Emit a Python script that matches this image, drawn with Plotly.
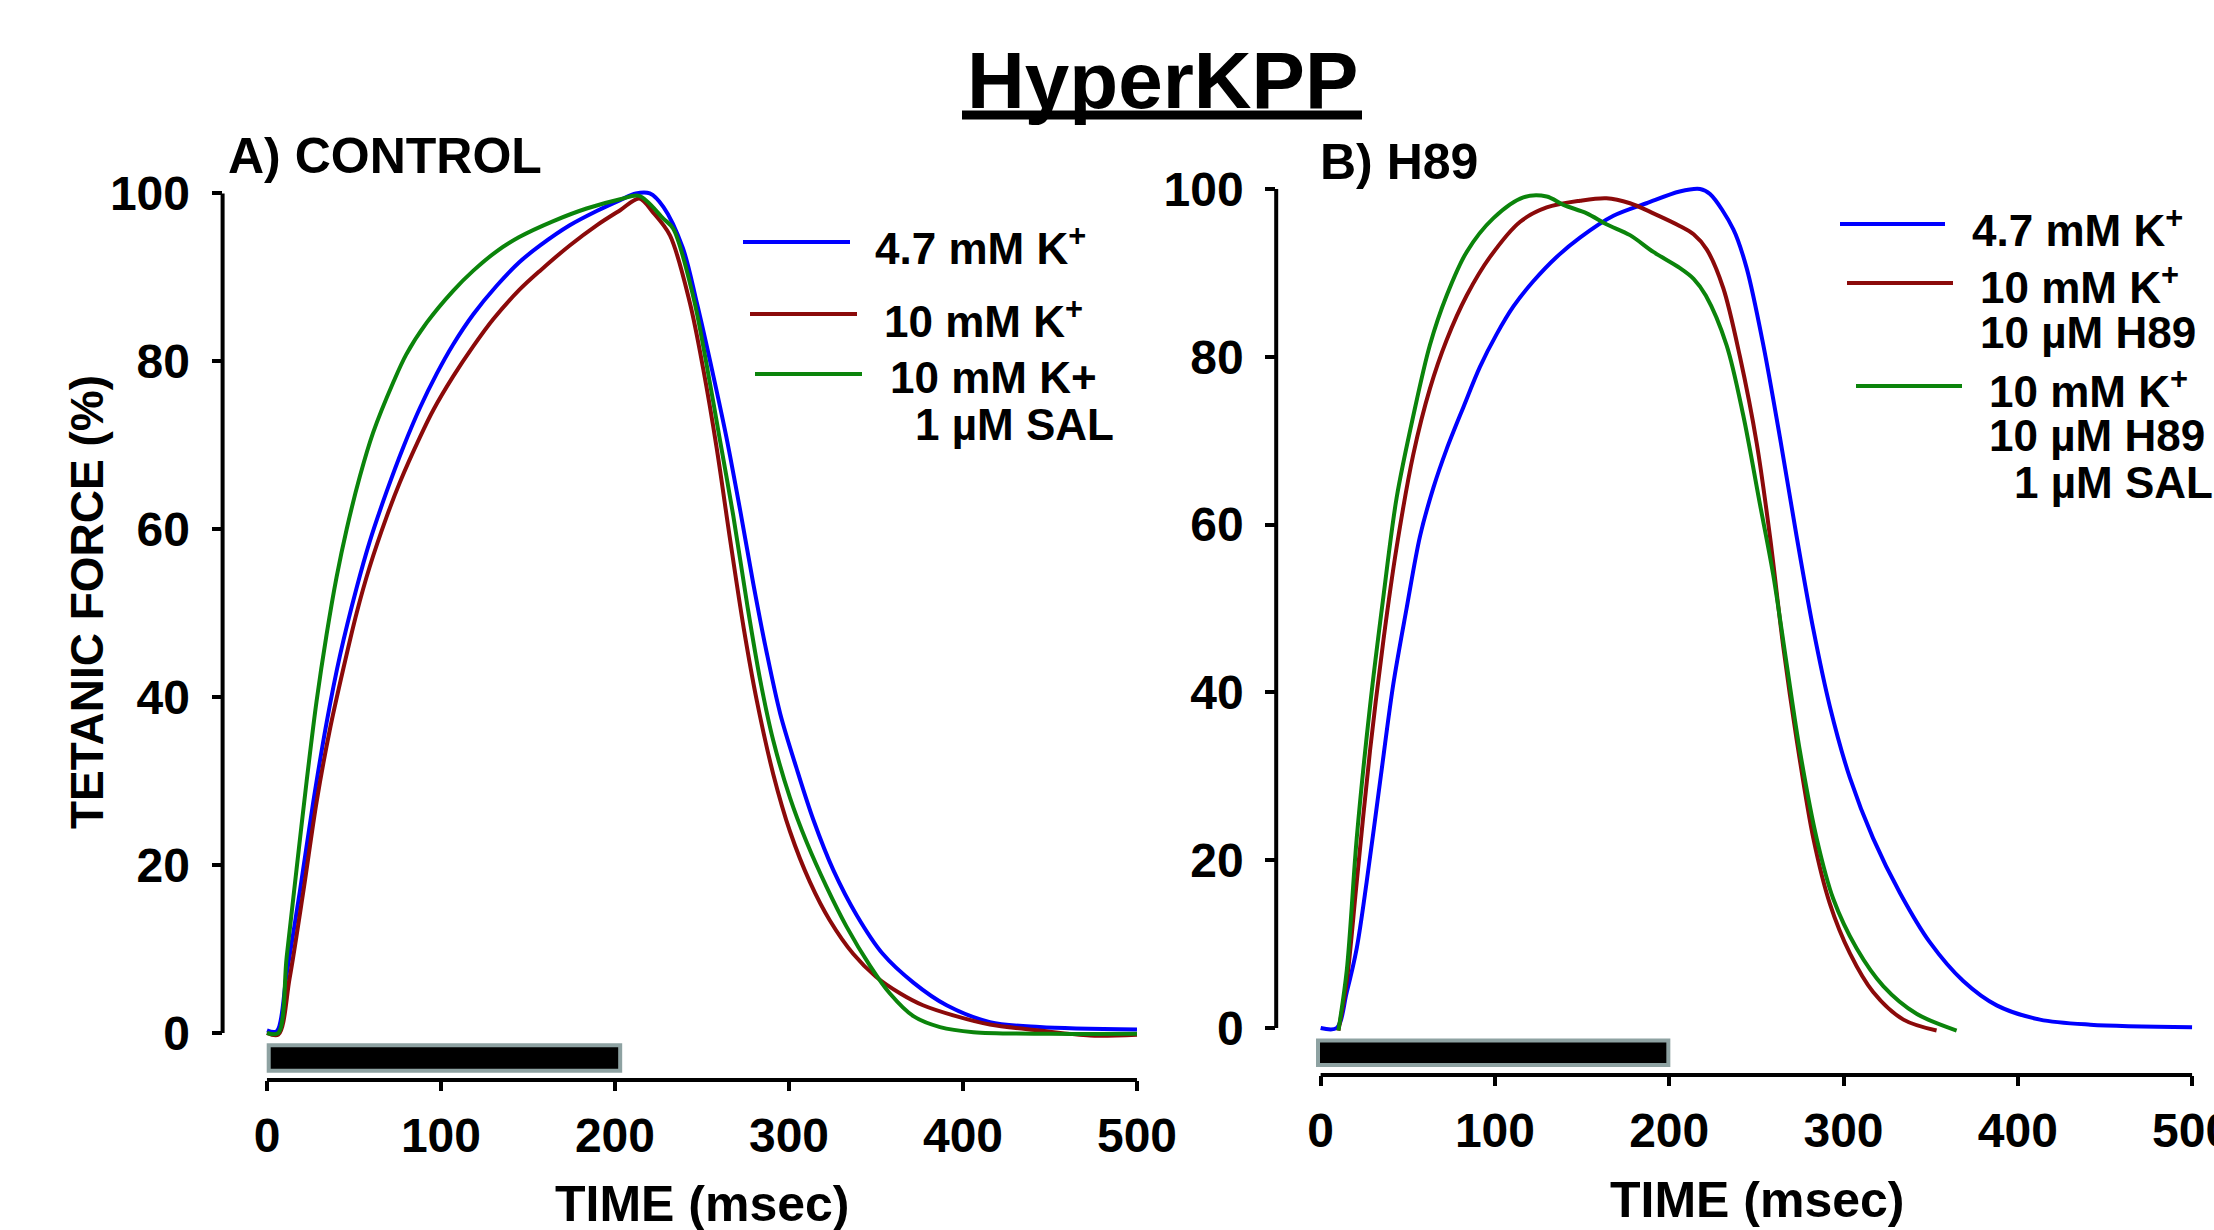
import plotly.graph_objects as go

W, H = 2214, 1230

# ---------------- DATA ----------------
# Panel A (CONTROL)
tA_blue = [0, 5.6, 11.3, 19, 26.6, 34.3, 42, 51.5, 59, 68.8, 78.4, 88, 97.5, 107, 118.6, 132, 145, 157, 174,
           189.5, 203, 212, 220, 227.8, 239, 247, 256.5, 264, 272, 279.5, 287, 295, 304.4, 314, 325.5, 339,
           354, 371.5, 390.6, 415.5, 444, 500]
vA_blue = [0.3, 0.2, 7, 17, 27.5, 37, 45, 53, 58.5, 64.5, 69.8, 74.5, 78.5, 82, 85.6, 89, 91.8, 93.8, 96.2,
           97.9, 99.2, 100, 100, 98.4, 93.5, 87, 78.3, 71, 62.2, 53.5, 45.5, 38, 31.5, 25.4, 19.4, 14,
           9.4, 6, 3.3, 1.3, 0.7, 0.4]

tA_red = [0, 6.5, 13, 21, 28.5, 36, 44, 51.5, 59, 68.8, 76.4, 88, 95.6, 107, 118.6, 130, 145, 157, 174, 189.5,
          203, 214, 222, 231.6, 243, 250.8, 258.5, 266, 274, 281.6, 291, 300.6, 312, 323.5, 337, 350, 364, 377,
          396, 415.5, 444, 473, 500]
vA_red = [0, -0.2, 6.5, 17, 27.5, 36, 43.5, 50, 55.5, 61.5, 65.6, 71, 74.2, 78.2, 81.8, 85, 88.5, 90.8, 93.8, 96.2,
          98, 99.4, 97.7, 95, 87, 79, 69.6, 59, 48.2, 39.5, 30.8, 24, 18, 13.4, 9.4, 6.7, 4.7, 3.3,
          2, 1, 0.3, -0.3, -0.2]

tA_green = [0, 6.5, 11.3, 17, 22.8, 28.5, 34.3, 40, 45.8, 53.4, 61, 72.6, 80, 91.8, 107, 118.6, 132, 145, 164.6,
            183.7, 203, 214, 227.8, 233.5, 245, 252.6, 260, 268, 276, 283.3, 291, 300.6, 310, 321.6, 333, 346.6,
            358, 371.5, 386.8, 406, 450, 500]
vA_green = [0, 0, 9, 19.5, 30, 39.5, 47.5, 54.3, 60, 66.3, 71.5, 77.5, 80.8, 84.6, 88.4, 90.8, 93.1, 94.8, 96.7,
            98.2, 99.3, 99.7, 97, 95.8, 87.7, 79.7, 71, 61.6, 51, 42.2, 34.8, 28, 22.8, 17.4, 12.7, 8,
            4.7, 2, 0.7, 0.1, -0.1, -0.1]

# Panel B (H89)
tB_blue = [0, 9.2, 15, 20.7, 26.4, 34, 41.7, 49.3, 57, 64.7, 72.3, 81.9, 91.4, 101, 110.6, 122, 135.4, 148.8,
           168, 187, 206, 217.7, 223.4, 236.8, 244.4, 254, 263.6, 273.1, 282.7, 292.2, 303.7, 317, 332.4,
           349.6, 368.7, 387.9, 412.7, 441.6, 500]
vB_blue = [0, 0, 4.3, 9.5, 17.4, 29.2, 41, 50, 58.6, 64.4, 69, 74, 78.8, 82.7, 86, 89, 91.9, 94.2,
           96.8, 98.3, 99.7, 100, 99.4, 95.2, 90.6, 81.4, 70.3, 58.6, 47.5, 38.3, 29.8, 22.6, 16.1,
           10.2, 5.6, 2.7, 1, 0.4, 0.1]

tB_red = [10.2, 15, 20.7, 28.3, 36, 43.6, 53.2, 62.7, 72.3, 83.8, 97.2, 114.5, 129.7, 148.8, 164, 177.5, 190.9,
          206, 214, 221.5, 231, 240.6, 250.2, 257.8, 265.4, 273.1, 282.7, 292.2, 303.7, 317, 334.4, 353.4]
vB_red = [-0.3, 5.6, 17.4, 33, 46.2, 57.3, 68.4, 76.2, 82, 87.3, 91.9, 96.1, 97.8, 98.6, 98.9, 98.3, 97.1,
          95.6, 94.6, 92.8, 88.2, 80, 69.7, 58.6, 45.5, 34.4, 22.6, 14.8, 8.9, 4.3, 1, -0.3]

tB_green = [10.2, 15, 20.7, 28.3, 36, 43.6, 53.2, 62.7, 72.3, 83.8, 99, 116.3, 129.7, 139.3, 152.7, 164, 177.5,
            190.9, 206, 214, 221, 232.9, 242.5, 252, 259.7, 267.3, 275, 284.6, 294.1, 307.5, 322.8,
            341.9, 364.9]
vB_green = [-0.3, 6.9, 22.6, 38.3, 51.4, 63.2, 73, 81.4, 87.3, 92.5, 96.5, 99, 99.1, 98.1, 97.1, 95.8, 94.5,
            92.5, 90.6, 89.3, 87.3, 81.4, 73, 62.5, 54, 43.5, 33, 22.6, 15.4, 9.5, 5,
            1.7, -0.3]

# stimulus bar (msec)
stim_start, stim_end = 0, 200

x_ticks = [0, 100, 200, 300, 400, 500]
y_ticks = [0, 20, 40, 60, 80, 100]

legend_A = ["4.7 mM K<sup>+</sup>", "10 mM K<sup>+</sup>", "10 mM K+", "1 µM SAL"]
legend_B = ["4.7 mM K<sup>+</sup>", "10 mM K<sup>+</sup>", "10 µM H89", "10 mM K<sup>+</sup>", "10 µM H89", "1 µM SAL"]

BLUE, RED, GREEN = "#0000ff", "#8b0a0a", "#0b840b"
FONT = "Liberation Sans, Arial, sans-serif"

# ---------------- LAYOUT GEOMETRY ----------------
def px(x):
    return x / W

def py(y):
    return 1 - y / H

XR = [-25.5, 503]
YR = [-5.6, 101]
domA_x = [px(222.6), px(1142.2)]
domA_y = [py(1080), py(185)]
domB_x = [px(1276.2), px(2197.3)]
domB_y = [py(1075), py(180.6)]


def to_paper(v, dom, rng):
    return dom[0] + (v - rng[0]) / (rng[1] - rng[0]) * (dom[1] - dom[0])


fig = go.Figure()
LW = 4
for t, v, c, ax in [(tA_blue, vA_blue, BLUE, 1), (tA_red, vA_red, RED, 1), (tA_green, vA_green, GREEN, 1),
                    (tB_blue, vB_blue, BLUE, 2), (tB_red, vB_red, RED, 2), (tB_green, vB_green, GREEN, 2)]:
    fig.add_trace(go.Scatter(x=t, y=v, mode="lines",
                             line=dict(color=c, width=LW, shape="spline", smoothing=0.9),
                             xaxis="x" if ax == 1 else "x2", yaxis="y" if ax == 1 else "y2",
                             showlegend=False, hoverinfo="skip"))

tickfont = dict(family=FONT, size=48, color="black", weight="bold")
common_x = dict(range=XR, showgrid=False, zeroline=False, showline=False, ticks="outside", ticklen=10,
                tickwidth=4, tickcolor="black", tickvals=x_ticks, tickfont=tickfont, ticklabelstandoff=3,
                ticklabeloverflow="allow", fixedrange=True, automargin=False)
common_y = dict(range=YR, showgrid=False, zeroline=False, showline=False, ticks="outside", ticklen=10,
                tickwidth=4, tickcolor="black", tickvals=y_ticks, tickfont=tickfont, ticklabelstandoff=12,
                ticklabeloverflow="allow", fixedrange=True, automargin=False)

shapes = []
annotations = []
for dx, dy in [(domA_x, domA_y), (domB_x, domB_y)]:
    # y axis line from 0 to 100
    shapes.append(dict(type="line", xref="paper", yref="paper", x0=dx[0], x1=dx[0],
                       y0=to_paper(0, dy, YR), y1=to_paper(100, dy, YR), line=dict(color="black", width=4)))
    # x axis line from 0 to 500
    shapes.append(dict(type="line", xref="paper", yref="paper", x0=to_paper(0, dx, XR), x1=to_paper(500, dx, XR),
                       y0=dy[0], y1=dy[0], line=dict(color="black", width=4)))

# stimulus bars
shapes.append(dict(type="rect", xref="x", yref="y", x0=stim_start + 1, x1=stim_end + 3, y0=-1.45, y1=-4.5,
                   fillcolor="black", line=dict(color="#8ea2a2", width=4), layer="above"))
shapes.append(dict(type="rect", xref="x2", yref="y2", x0=stim_start - 1.5, x1=stim_end - 0.5, y0=-1.5, y1=-4.4,
                   fillcolor="black", line=dict(color="#8ea2a2", width=4), layer="above"))

# title underline
shapes.append(dict(type="line", xref="paper", yref="paper", x0=px(962), x1=px(1362), y0=py(115), y1=py(115),
                   line=dict(color="black", width=9)))


def text(x, y, s, size, xanchor="left", angle=0):
    annotations.append(dict(x=px(x), y=py(y), xref="paper", yref="paper", text=s, showarrow=False,
                            xanchor=xanchor, yanchor="middle", textangle=angle,
                            font=dict(family=FONT, size=size, color="black", weight="bold")))


text(1162, 80, "HyperKPP", 80, "center")
text(226, 156, "A) CONTROL", 50)
text(1318, 162, "B) H89", 50)
text(87, 602, "TETANIC FORCE (%)", 46, "center", -90)
text(702, 1204, "TIME (msec)", 50, "center")
text(1757, 1200, "TIME (msec)", 50, "center")

# legend A
for (x0, x1, y), c in zip([(743, 850, 242), (750, 857, 314), (755, 862, 374)], [BLUE, RED, GREEN]):
    shapes.append(dict(type="line", xref="paper", yref="paper", x0=px(x0), x1=px(x1), y0=py(y), y1=py(y),
                       line=dict(color=c, width=4)))
for (x, y), s in zip([(873, 245), (882, 318), (888, 377), (913, 424)], legend_A):
    text(x, y, s, 44)

# legend B
for (x0, x1, y), c in zip([(1840, 1945, 224), (1847, 1953, 283), (1856, 1962, 386)], [BLUE, RED, GREEN]):
    shapes.append(dict(type="line", xref="paper", yref="paper", x0=px(x0), x1=px(x1), y0=py(y), y1=py(y),
                       line=dict(color=c, width=4)))
for (x, y), s in zip([(1970, 227), (1978, 284), (1978, 332), (1987, 388), (1987, 435), (2012, 482)], legend_B):
    text(x, y, s, 44)

fig.update_layout(
    width=W, height=H, margin=dict(l=0, r=0, t=0, b=0, pad=0, autoexpand=False),
    paper_bgcolor="white", plot_bgcolor="white",
    font=dict(family=FONT, color="black", weight="bold"),
    xaxis=dict(domain=domA_x, anchor="y", **common_x),
    yaxis=dict(domain=domA_y, anchor="x", **common_y),
    xaxis2=dict(domain=domB_x, anchor="y2", **common_x),
    yaxis2=dict(domain=domB_y, anchor="x2", **common_y),
    shapes=shapes, annotations=annotations, showlegend=False,
)

fig.write_html("out.html", config={"displayModeBar": False},
               post_script="document.body.style.margin='0px';document.body.style.overflow='hidden';")
